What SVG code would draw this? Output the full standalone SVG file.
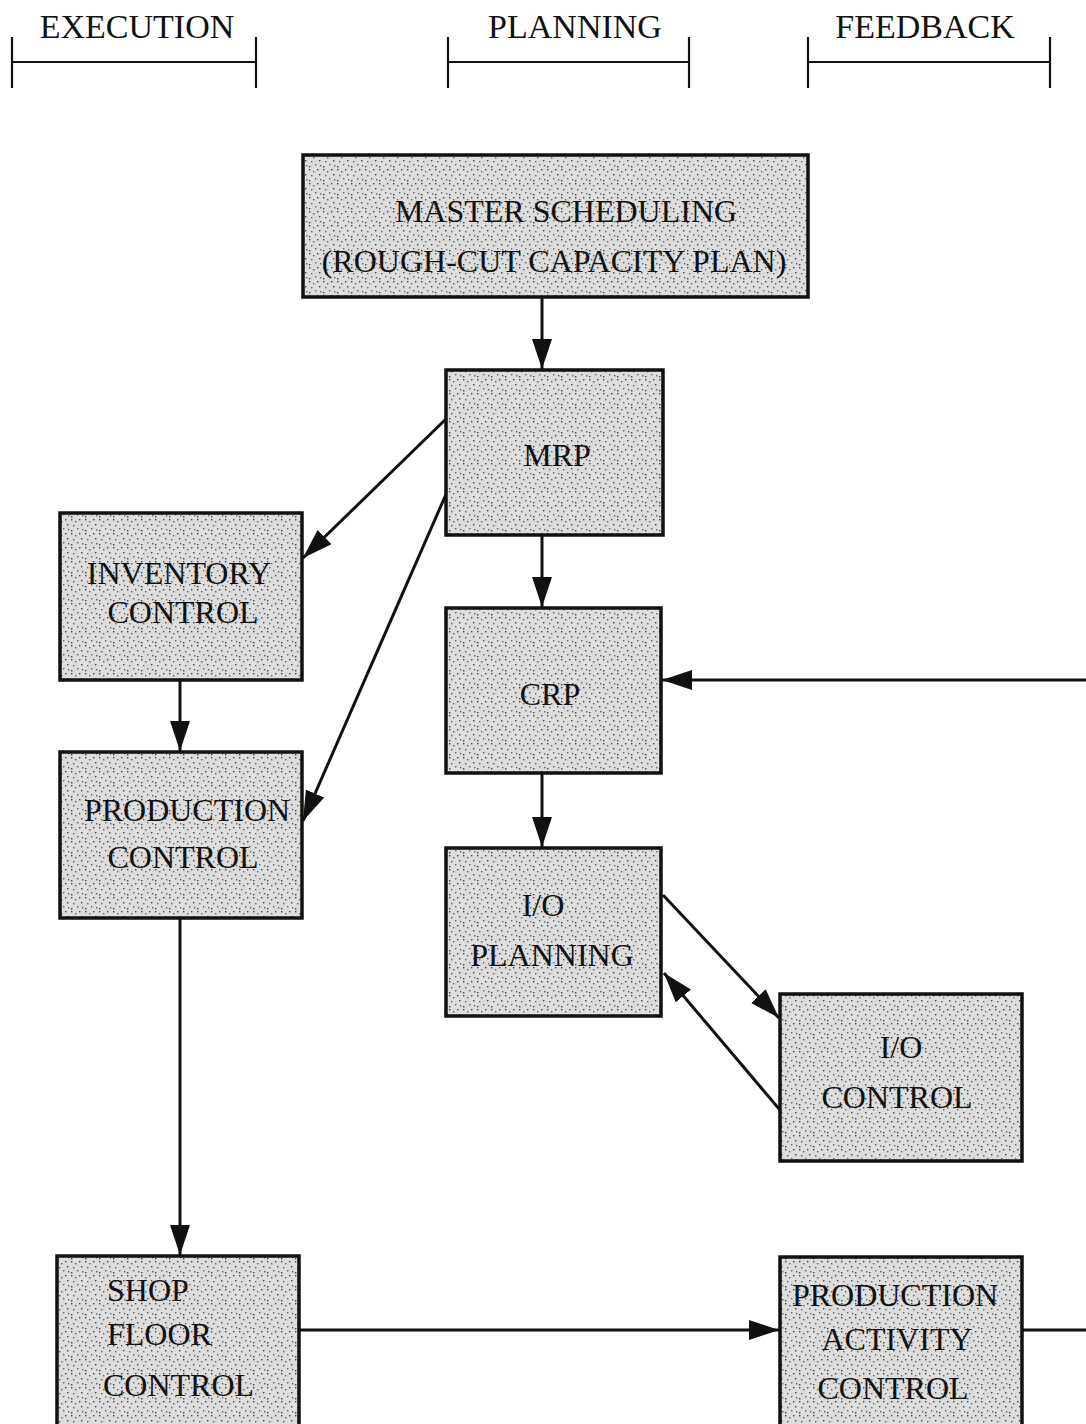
<svg xmlns="http://www.w3.org/2000/svg" width="1086" height="1424" viewBox="0 0 1086 1424">
<style>
.hdr{font-family:"Liberation Serif","Times New Roman",serif;font-size:34px;fill:#111;text-anchor:middle}
.lbl{font-family:"Liberation Serif","Times New Roman",serif;font-size:32px;fill:#111;text-anchor:middle}
.ls{font-family:"Liberation Serif","Times New Roman",serif;font-size:32px;fill:#111}
.box{fill:url(#stip);stroke:#111;stroke-width:3.5}
.br{stroke:#111;stroke-width:2.2;fill:none}
.con{stroke:#111;stroke-width:3;fill:none}
</style>
<defs>
<pattern id="stip" width="14" height="14" patternUnits="userSpaceOnUse">
<rect width="14" height="14" fill="#dddddd"/>
<rect x="1" y="1" width="1.4" height="1.4" fill="#444"/>
<rect x="5" y="3" width="1.4" height="1.4" fill="#666"/>
<rect x="9" y="1" width="1.4" height="1.4" fill="#444"/>
<rect x="3" y="7" width="1.4" height="1.4" fill="#666"/>
<rect x="11" y="6" width="1.4" height="1.4" fill="#444"/>
<rect x="7" y="10" width="1.4" height="1.4" fill="#666"/>
<rect x="1" y="12" width="1.4" height="1.4" fill="#444"/>
<rect x="12" y="11" width="1.4" height="1.4" fill="#666"/>
</pattern>
<marker id="ah" markerUnits="userSpaceOnUse" markerWidth="32" markerHeight="22" refX="30" refY="10" orient="auto">
<path d="M0,0 L30,10 L0,20 Z" fill="#111"/>
</marker>
</defs>

<g id="headers">
<text class="hdr" x="137" y="38">EXECUTION</text>
<path class="br" d="M12,37 V88 M256,37 V88 M12,62 H256"/>
<text class="hdr" x="575" y="38">PLANNING</text>
<path class="br" d="M448,37 V88 M689,37 V88 M448,62 H689"/>
<text class="hdr" x="925" y="38">FEEDBACK</text>
<path class="br" d="M808,37 V88 M1050,37 V88 M808,62 H1050"/>
</g>

<g id="connectors">
<line class="con" x1="542" y1="298" x2="542" y2="369" marker-end="url(#ah)"/>
<line class="con" x1="447" y1="418" x2="303" y2="558" marker-end="url(#ah)"/>
<line class="con" x1="447" y1="492" x2="303" y2="821" marker-end="url(#ah)"/>
<line class="con" x1="542" y1="536" x2="542" y2="607" marker-end="url(#ah)"/>
<line class="con" x1="180" y1="681" x2="180" y2="751" marker-end="url(#ah)"/>
<line class="con" x1="542" y1="774" x2="542" y2="847" marker-end="url(#ah)"/>
<line class="con" x1="663" y1="895" x2="779" y2="1018" marker-end="url(#ah)"/>
<line class="con" x1="780" y1="1110" x2="664" y2="973" marker-end="url(#ah)"/>
<line class="con" x1="180" y1="919" x2="180" y2="1255" marker-end="url(#ah)"/>
<line class="con" x1="300" y1="1330" x2="779" y2="1330" marker-end="url(#ah)"/>
<line class="con" x1="1023" y1="1330" x2="1086" y2="1330"/>
<line class="con" x1="1086" y1="680" x2="662" y2="680" marker-end="url(#ah)"/>
</g>

<g id="master">
<rect class="box" x="303" y="155" width="505" height="142"/>
<text class="lbl" x="566" y="222">MASTER SCHEDULING</text>
<text class="lbl" x="554" y="272">(ROUGH-CUT CAPACITY PLAN)</text>
</g>
<g id="mrp">
<rect class="box" x="446" y="370" width="217" height="165"/>
<text class="lbl" x="557" y="466">MRP</text>
</g>
<g id="inventory">
<rect class="box" x="60" y="513" width="242" height="167"/>
<text class="lbl" x="179" y="584">INVENTORY</text>
<text class="lbl" x="183" y="623">CONTROL</text>
</g>
<g id="crp">
<rect class="box" x="446" y="608" width="215" height="165"/>
<text class="lbl" x="550" y="705">CRP</text>
</g>
<g id="production">
<rect class="box" x="60" y="752" width="242" height="166"/>
<text class="lbl" x="187" y="821">PRODUCTION</text>
<text class="lbl" x="183" y="868">CONTROL</text>
</g>
<g id="ioplanning">
<rect class="box" x="446" y="848" width="215" height="168"/>
<text class="lbl" x="543" y="916">I/O</text>
<text class="lbl" x="552" y="966">PLANNING</text>
</g>
<g id="iocontrol">
<rect class="box" x="780" y="994" width="242" height="167"/>
<text class="lbl" x="901" y="1058">I/O</text>
<text class="lbl" x="897" y="1108">CONTROL</text>
</g>
<g id="shopfloor">
<rect class="box" x="57" y="1256" width="242" height="172"/>
<text class="ls" x="107" y="1301">SHOP</text>
<text class="ls" x="107" y="1345">FLOOR</text>
<text class="ls" x="103" y="1396">CONTROL</text>
</g>
<g id="pac">
<rect class="box" x="780" y="1257" width="242" height="171"/>
<text class="lbl" x="895" y="1306">PRODUCTION</text>
<text class="lbl" x="897" y="1350">ACTIVITY</text>
<text class="lbl" x="893" y="1399">CONTROL</text>
</g>
</svg>
